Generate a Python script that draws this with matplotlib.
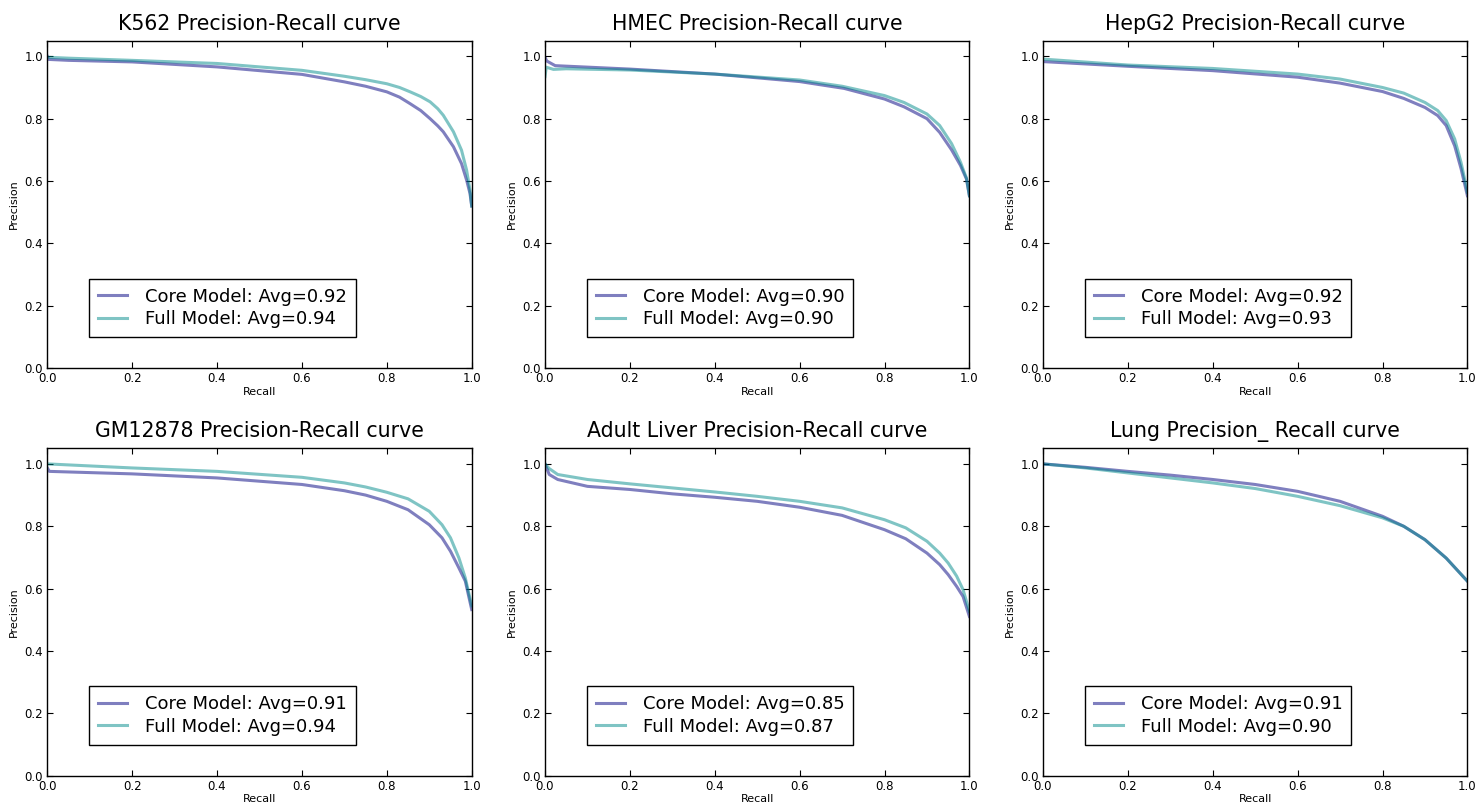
import numpy as np
import matplotlib
matplotlib.use("Agg")
import matplotlib.pyplot as plt

# panel titles and legend averages
titles = ["K562 Precision-Recall curve", "HMEC Precision-Recall curve",
          "HepG2 Precision-Recall curve", "GM12878 Precision-Recall curve",
          "Adult Liver Precision-Recall curve", "Lung Precision_ Recall curve"]
core_avg = [0.92, 0.90, 0.92, 0.91, 0.85, 0.91]
full_avg = [0.94, 0.90, 0.93, 0.94, 0.87, 0.90]

# recall / precision points
k562_core_r = [0.0, 0.003, 0.05, 0.2, 0.4, 0.6, 0.7, 0.75, 0.8, 0.83, 0.855, 0.88, 0.902, 0.92, 0.933, 0.957, 0.976, 0.988, 0.996, 1.0]
k562_core_p = [1.0, 0.99, 0.987, 0.982, 0.966, 0.942, 0.918, 0.904, 0.886, 0.869, 0.848, 0.826, 0.80, 0.777, 0.758, 0.71, 0.656, 0.603, 0.56, 0.52]
k562_full_r = [0.0, 0.05, 0.2, 0.4, 0.6, 0.7, 0.75, 0.8, 0.83, 0.855, 0.88, 0.902, 0.92, 0.933, 0.957, 0.976, 0.988, 0.996, 1.0]
k562_full_p = [0.997, 0.994, 0.987, 0.977, 0.955, 0.936, 0.925, 0.912, 0.9, 0.886, 0.871, 0.854, 0.832, 0.811, 0.758, 0.699, 0.635, 0.571, 0.52]

hmec_core_r = [0.0, 0.004, 0.024, 0.2, 0.4, 0.6, 0.705, 0.8, 0.846, 0.9, 0.93, 0.958, 0.979, 0.993, 1.0]
hmec_core_p = [0.997, 0.985, 0.97, 0.959, 0.943, 0.919, 0.897, 0.863, 0.838, 0.80, 0.756, 0.70, 0.65, 0.607, 0.553]
hmec_full_r = [0.0, 0.003, 0.02, 0.05, 0.2, 0.4, 0.6, 0.7, 0.8, 0.846, 0.9, 0.93, 0.958, 0.979, 0.993, 1.0]
hmec_full_p = [0.935, 0.965, 0.958, 0.96, 0.956, 0.943, 0.924, 0.904, 0.874, 0.852, 0.815, 0.778, 0.72, 0.66, 0.61, 0.553]

hepg2_core_r = [0.0, 0.2, 0.4, 0.6, 0.7, 0.8, 0.85, 0.9, 0.93, 0.95, 0.97, 0.985, 1.0]
hepg2_core_p = [0.983, 0.968, 0.954, 0.933, 0.914, 0.887, 0.865, 0.836, 0.81, 0.778, 0.713, 0.64, 0.553]
hepg2_full_r = [0.0, 0.2, 0.4, 0.6, 0.7, 0.8, 0.85, 0.9, 0.93, 0.95, 0.97, 0.985, 1.0]
hepg2_full_p = [0.991, 0.972, 0.961, 0.943, 0.927, 0.90, 0.882, 0.852, 0.826, 0.794, 0.735, 0.66, 0.564]

gm_core_r = [0.0, 0.005, 0.2, 0.4, 0.6, 0.7, 0.75, 0.8, 0.85, 0.9, 0.93, 0.95, 0.97, 0.985, 1.0]
gm_core_p = [0.987, 0.976, 0.968, 0.955, 0.934, 0.914, 0.9, 0.88, 0.853, 0.805, 0.763, 0.72, 0.666, 0.624, 0.533]
gm_full_r = [0.0, 0.2, 0.4, 0.6, 0.7, 0.75, 0.8, 0.85, 0.9, 0.93, 0.95, 0.97, 0.985, 1.0]
gm_full_p = [1.0, 0.987, 0.976, 0.957, 0.939, 0.926, 0.909, 0.888, 0.848, 0.805, 0.763, 0.698, 0.634, 0.545]

liver_core_r = [0.0, 0.01, 0.03, 0.1, 0.2, 0.3, 0.4, 0.5, 0.6, 0.7, 0.8, 0.85, 0.9, 0.93, 0.95, 0.97, 0.985, 1.0]
liver_core_p = [1.0, 0.966, 0.95, 0.928, 0.918, 0.904, 0.893, 0.88, 0.861, 0.835, 0.789, 0.76, 0.714, 0.677, 0.645, 0.607, 0.575, 0.511]
liver_full_r = [0.0, 0.01, 0.03, 0.1, 0.2, 0.3, 0.4, 0.5, 0.6, 0.7, 0.8, 0.85, 0.9, 0.93, 0.95, 0.97, 0.985, 1.0]
liver_full_p = [1.0, 0.985, 0.966, 0.95, 0.936, 0.923, 0.91, 0.896, 0.88, 0.859, 0.821, 0.795, 0.752, 0.714, 0.682, 0.64, 0.597, 0.527]

lung_core_r = [0.0, 0.1, 0.2, 0.3, 0.4, 0.5, 0.6, 0.7, 0.8, 0.85, 0.9, 0.95, 1.0]
lung_core_p = [1.0, 0.989, 0.976, 0.964, 0.95, 0.934, 0.912, 0.88, 0.832, 0.80, 0.757, 0.698, 0.624]
lung_full_r = [0.0, 0.1, 0.2, 0.3, 0.4, 0.5, 0.6, 0.7, 0.8, 0.85, 0.9, 0.95, 1.0]
lung_full_p = [1.0, 0.987, 0.971, 0.955, 0.939, 0.921, 0.896, 0.866, 0.827, 0.80, 0.757, 0.698, 0.624]

core = [(k562_core_r, k562_core_p), (hmec_core_r, hmec_core_p), (hepg2_core_r, hepg2_core_p),
        (gm_core_r, gm_core_p), (liver_core_r, liver_core_p), (lung_core_r, lung_core_p)]
full = [(k562_full_r, k562_full_p), (hmec_full_r, hmec_full_p), (hepg2_full_r, hepg2_full_p),
        (gm_full_r, gm_full_p), (liver_full_r, liver_full_p), (lung_full_r, lung_full_p)]

fig = plt.figure(figsize=(14.79, 8.05), dpi=100)

lefts = [47.3, 545, 1043]
tops = [40.7, 448.3]
w, h = 424.4, 327.5

for i in range(6):
    row, col = divmod(i, 3)
    ax = fig.add_axes([lefts[col] / 1479, 1 - (tops[row] + h) / 805, w / 1479, h / 805])
    ax.plot(core[i][0], core[i][1], color="navy", alpha=0.5, lw=2.2,
            label="Core Model: Avg=%.2f" % core_avg[i])
    ax.plot(full[i][0], full[i][1], color="darkcyan", alpha=0.5, lw=2.2,
            label="Full Model: Avg=%.2f" % full_avg[i])
    ax.set_xlim(0, 1)
    ax.set_ylim(0, 1.05)
    ax.set_xticks([0, 0.2, 0.4, 0.6, 0.8, 1.0])
    ax.set_yticks([0, 0.2, 0.4, 0.6, 0.8, 1.0])
    ax.tick_params(direction="in", top=True, right=True, labelsize=8.5, length=4, pad=3)
    ax.set_xlabel("Recall", fontsize=8, labelpad=1)
    ax.set_ylabel("Precision", fontsize=8, labelpad=4)
    ax.set_title(titles[i], fontsize=14.8, pad=8)
    leg = ax.legend(loc="lower left", bbox_to_anchor=(0.098, 0.095), borderaxespad=0,
                    fontsize=13, fancybox=False, framealpha=1, edgecolor="black",
                    handlelength=1.6, handletextpad=1.0, borderpad=0.5, labelspacing=0.25)
    leg.get_frame().set_linewidth(1.0)
    for s in ax.spines.values():
        s.set_linewidth(1.0)

fig.savefig("out.png", dpi=100)
